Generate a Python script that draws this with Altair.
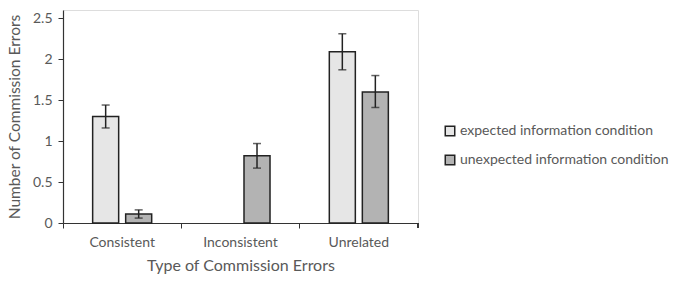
import altair as alt
import pandas as pd

categories = ["Consistent", "Inconsistent", "Unrelated"]
conditions = ["expected information condition", "unexpected information condition"]
expected_mean = [1.30, None, 2.09]
expected_lo = [1.16, None, 1.87]
expected_hi = [1.44, None, 2.31]
unexpected_mean = [0.11, 0.82, 1.60]
unexpected_lo = [0.06, 0.67, 1.41]
unexpected_hi = [0.16, 0.97, 1.80]

rows = []
for i, c in enumerate(categories):
    if expected_mean[i] is not None:
        rows.append({"cat": c, "cond": conditions[0], "v": expected_mean[i],
                     "lo": expected_lo[i], "hi": expected_hi[i]})
    rows.append({"cat": c, "cond": conditions[1], "v": unexpected_mean[i],
                 "lo": unexpected_lo[i], "hi": unexpected_hi[i]})
df = pd.DataFrame(rows)

FONT = "Lato"
TXT = "#595959"
W, H = 355, 213

x = alt.X("cat:N", sort=categories, title="Type of Commission Errors",
          scale=alt.Scale(paddingInner=0, paddingOuter=0),
          axis=alt.Axis(labelAngle=0, bandPosition=0, tickSize=5, tickColor="#333",
                        domainColor="#333", domainWidth=1.2, labelColor=TXT, titleColor=TXT,
                        labelFontSize=14, titleFontSize=16, labelPadding=7,
                        titlePadding=8, titleFontWeight="normal", labelFont=FONT,
                        titleFont=FONT))
xo = alt.XOffset("cond:N", sort=conditions,
                 scale=alt.Scale(domain=conditions, paddingInner=0.212, paddingOuter=0.898))
y = alt.Y("v:Q", title="Number of Commission Errors",
          scale=alt.Scale(domain=[0, 2.5]),
          axis=alt.Axis(values=[0, 0.5, 1, 1.5, 2, 2.5], grid=False, tickSize=5,
                        tickColor="#333", domainColor="#333", domainWidth=1.2,
                        labelColor=TXT, titleColor=TXT, labelFontSize=14, titleFontSize=15.5,
                        titleFontWeight="normal", labelPadding=6, titlePadding=10,
                        labelFont=FONT, titleFont=FONT,
                        labelExpr="datum.value"))

color = alt.Color("cond:N", sort=conditions,
                  scale=alt.Scale(domain=conditions, range=["#e6e6e6", "#b3b3b3"]),
                  legend=alt.Legend(title=None, orient="none", legendX=380, legendY=114,
                                    symbolType="square", symbolSize=90,
                                    symbolStrokeColor="#222", symbolStrokeWidth=1.5,
                                    labelFontSize=14, labelColor=TXT, labelFont=FONT,
                                    labelLimit=0, rowPadding=13, symbolOffset=0,
                                    labelOffset=3))

bars = alt.Chart(df).mark_bar(stroke="#222", strokeWidth=1.5).encode(
    x=x, xOffset=xo, y=y, color=color)

err = alt.Chart(df).mark_rule(color="#222", strokeWidth=1.5).encode(
    x=alt.X("cat:N", sort=categories), xOffset=xo, y="lo:Q", y2="hi:Q")

caps_lo = alt.Chart(df).mark_tick(color="#222", thickness=1.5, size=8, orient="horizontal").encode(
    x=alt.X("cat:N", sort=categories), xOffset=xo, y="lo:Q")
caps_hi = alt.Chart(df).mark_tick(color="#222", thickness=1.5, size=8, orient="horizontal").encode(
    x=alt.X("cat:N", sort=categories), xOffset=xo, y="hi:Q")

end_tick = alt.Chart(df).mark_rule(color="#333", strokeWidth=1).encode(
    x=alt.value(W), y=alt.value(H), y2=alt.value(H + 5))

chart = alt.layer(bars, err, caps_lo, caps_hi, end_tick).properties(
    width=W, height=H,
    autosize=alt.AutoSizeParams(type="none"),
    padding={"left": 63, "top": 10, "right": 679 - 63 - W, "bottom": 282 - 10 - H},
).configure_view(stroke=None).configure(font=FONT)

chart.save("out.html", embed_options={"renderer": "svg", "actions": False})
